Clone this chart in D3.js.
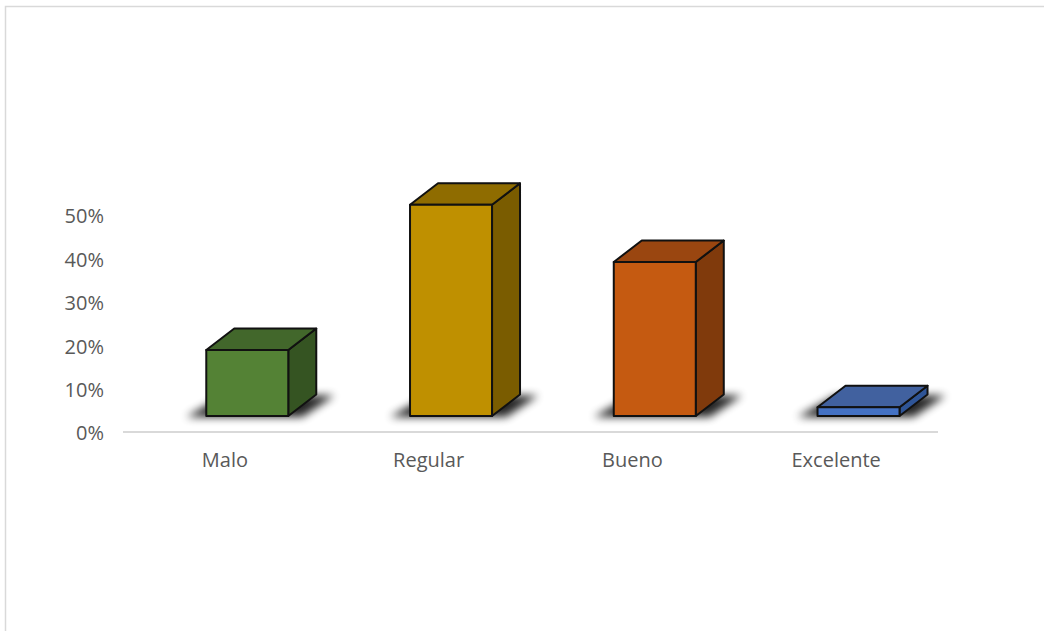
<!DOCTYPE html>
<html>
<head>
<meta charset="utf-8">
<script src="https://cdn.jsdelivr.net/npm/d3@7"></script>
<style>
  html, body { margin: 0; padding: 0; background: #fff; }
  svg { display: block; }
  text { font-family: "Open Sans", "Noto Sans", sans-serif; fill: #595959; }
</style>
</head>
<body>
<svg id="chart" width="1044" height="631"></svg>
<script>
// Survey rating distribution
const categories = ["Malo", "Regular", "Bueno", "Excelente"];
const values = [0.15, 0.48, 0.35, 0.02];
const tickValues = [0, 0.1, 0.2, 0.3, 0.4, 0.5];

// Face colours per column: front, top, side
const frontColors = ["#548235", "#bf9000", "#c55a11", "#4472c4"];
const topColors   = ["#42672b", "#8f6c00", "#9a4610", "#41619f"];
const sideColors  = ["#355422", "#7a5c00", "#803a0c", "#2f5597"];

const W = 1044, H = 631;
const svg = d3.select("#chart");

// Light frame around the chart area
svg.append("rect")
  .attr("x", 5.5).attr("y", 6.5)
  .attr("width", W + 20).attr("height", H + 20)
  .attr("fill", "none")
  .attr("stroke", "#d9d9d9")
  .attr("stroke-width", 1.5);

// Scales
const x = d3.scaleBand().domain(categories).range([123, 938]);
const yAxisScale = d3.scaleLinear().domain([0, 0.5]).range([433.5, 216.5]);
const yFront = d3.scaleLinear().domain([0, 0.5]).range([416, 196]);

// 3D depth offset and front-face geometry
const depthX = 28, depthY = -21.5;
const barW = 82, barShift = -18.6;

// Shadow blur
const defs = svg.append("defs");
defs.append("filter")
  .attr("id", "soft")
  .attr("x", "-50%").attr("y", "-100%")
  .attr("width", "200%").attr("height", "300%")
  .append("feGaussianBlur").attr("stdDeviation", 4.5);

// Y axis tick labels (no axis line)
const yAxis = d3.axisLeft(yAxisScale)
  .tickValues(tickValues)
  .tickFormat(d3.format(".0%"))
  .tickSize(0)
  .tickPadding(0);
const yg = svg.append("g").attr("transform", "translate(104,0)").call(yAxis);
yg.select(".domain").remove();
yg.selectAll("text")
  .attr("font-size", 20)
  .attr("fill", "#595959")
  .style("font-family", "'Open Sans', 'Noto Sans', sans-serif");

// Category axis line
svg.append("line")
  .attr("x1", x.range()[0]).attr("x2", x.range()[1])
  .attr("y1", 432).attr("y2", 432)
  .attr("stroke", "#d9d9d9").attr("stroke-width", 2);

// Category labels
const xAxis = d3.axisBottom(x).tickSize(0).tickPadding(0);
const xg = svg.append("g").attr("transform", "translate(0,453)").call(xAxis);
xg.select(".domain").remove();
xg.selectAll("text")
  .attr("font-size", 20)
  .attr("fill", "#595959")
  .attr("dy", "0.71em")
  .style("font-family", "'Open Sans', 'Noto Sans', sans-serif");

const data = categories.map((c, i) => ({
  cat: c, v: values[i],
  front: frontColors[i], top: topColors[i], side: sideColors[i]
}));

const poly = pts => pts.map(p => p.join(",")).join(" ");

const bars = svg.append("g").selectAll("g.bar")
  .data(data).join("g").attr("class", "bar");

// Floor shadows
bars.append("polygon")
  .attr("points", d => {
    const x0 = x(d.cat) + x.bandwidth() / 2 + barShift;
    const x1 = x0 + barW;
    const y0 = yFront(0);
    return poly([
      [x0 - 20, y0 + 1],
      [x1 + 14, y0 + 1],
      [x1 + depthX + 18, y0 + depthY + 1],
      [x0 + depthX - 10, y0 + depthY + 1]
    ]);
  })
  .attr("fill", "#000")
  .attr("opacity", 0.85)
  .attr("filter", "url(#soft)");

const strokeStyle = sel => sel
  .attr("stroke", "#111")
  .attr("stroke-width", 2)
  .attr("stroke-linejoin", "round");

// Side faces
bars.append("polygon")
  .attr("points", d => {
    const x1 = x(d.cat) + x.bandwidth() / 2 + barShift + barW;
    const yb = yFront(0), yt = yFront(d.v);
    return poly([[x1, yb], [x1, yt], [x1 + depthX, yt + depthY], [x1 + depthX, yb + depthY]]);
  })
  .attr("fill", d => d.side)
  .call(strokeStyle);

// Top faces
bars.append("polygon")
  .attr("points", d => {
    const x0 = x(d.cat) + x.bandwidth() / 2 + barShift;
    const x1 = x0 + barW;
    const yt = yFront(d.v);
    return poly([[x0, yt], [x1, yt], [x1 + depthX, yt + depthY], [x0 + depthX, yt + depthY]]);
  })
  .attr("fill", d => d.top)
  .call(strokeStyle);

// Front faces
bars.append("rect")
  .attr("x", d => x(d.cat) + x.bandwidth() / 2 + barShift)
  .attr("y", d => yFront(d.v))
  .attr("width", barW)
  .attr("height", d => yFront(0) - yFront(d.v))
  .attr("fill", d => d.front)
  .call(strokeStyle);
</script>
</body>
</html>
